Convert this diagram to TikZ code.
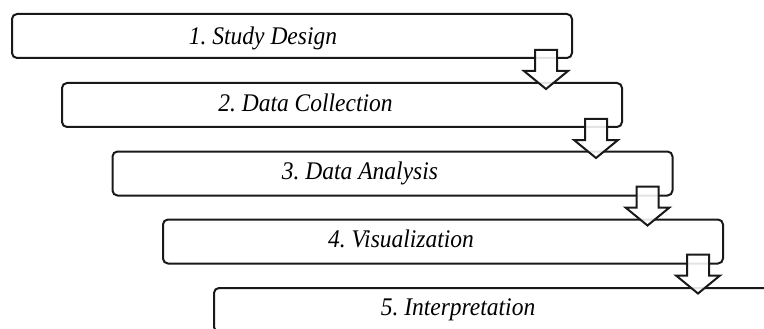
\documentclass[tikz,border=0pt]{standalone}
\usepackage{fontspec}
\setmainfont{Liberation Serif}
\frenchspacing
\usetikzlibrary{calc}
\tikzset{
  stagebox/.style={draw=black!90, line width=2pt, rounded corners=5pt, rectangle,
    minimum width=560pt, minimum height=44pt, inner sep=0pt, fill=white},
  stagelabel/.style={anchor=base, inner sep=0pt, yscale=1.08, transform shape,
    font=\fontsize{23.5pt}{26pt}\selectfont\itshape},
  blockarrow/.style={draw=black!90, line width=2pt, fill=white, fill opacity=0.88, line join=miter}
}
\newcommand{\downblock}[1]{%
  \draw[blockarrow] #1 ++(-11,0) -- ++(22,0) -- ++(0,21) -- ++(11,0) -- ++(-22,18) -- ++(-22,-18) -- ++(11,0) -- cycle;}
\begin{document}
\begin{tikzpicture}[x=1pt,y=-1pt]
\useasboundingbox (0,0) rectangle (764,329);
\clip (0,0) rectangle (764,329);
\node[stagebox] (b1) at (292,36) {};
\node[stagebox] (b2) at (342,105) {};
\node[stagebox] (b3) at (392.5,173.5) {};
\node[stagebox] (b4) at (443,241.5) {};
\node[stagebox] (b5) at (494,310) {};
\node[stagelabel] (t1) at (263,45) {1. Study Design};
\node[stagelabel] (t2) at (305.5,112) {2. Data Collection};
\node[stagelabel] (t3) at (360,179) {3. Data Analysis};
\node[stagelabel] (t4) at (401,247) {4. Visualization};
\node[stagelabel] (t5) at (458,315) {5. Interpretation};
\coordinate (a1) at ($(b1.south east)+(-27,-9)$);
\coordinate (a2) at ($(b2.south east)+(-27,-9)$);
\coordinate (a3) at ($(b3.south east)+(-26,-10)$);
\coordinate (a4) at ($(b4.south east)+(-26,-10)$);
\downblock{(a1)}
\downblock{(a2)}
\downblock{(a3)}
\downblock{(a4)}
\end{tikzpicture}
\end{document}
